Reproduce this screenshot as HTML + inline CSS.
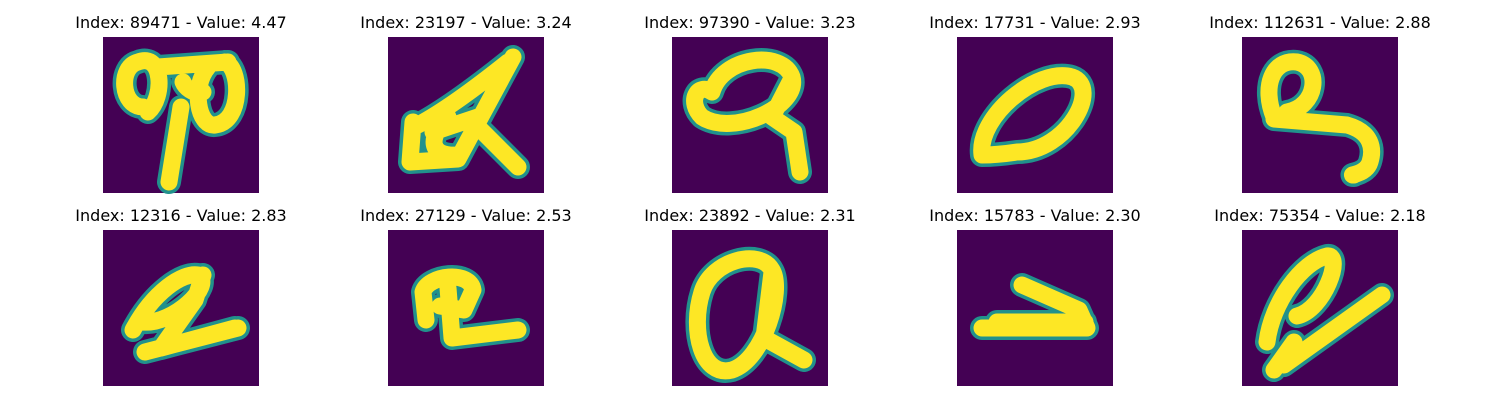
<!DOCTYPE html>
<html><head><meta charset="utf-8"><style>
body{margin:0;background:#fff;}
svg{display:block;font-family:"DejaVu Sans","Liberation Sans",sans-serif;}
.t{font-size:16px;fill:#000;text-anchor:middle;}
.e{fill:none;stroke:#21918c;stroke-linecap:round;stroke-linejoin:round;stroke-width:24;}
.y{fill:none;stroke:#fde725;stroke-linecap:round;stroke-linejoin:round;stroke-width:17;}
</style></head><body>
<svg id="fig" width="1500" height="400"></svg>
<script>
const indices=[89471,23197,97390,17731,112631,12316,27129,23892,15783,75354];
const values=[4.47,3.24,3.23,2.93,2.88,2.83,2.53,2.31,2.30,2.18];
const shapes=[
"M40,70 C18,70 15,30 35,25 C60,15 62,60 45,75 M55,30 L125,25 M105,30 C88,50 95,90 112,88 C140,85 138,30 122,25 M100,55 C90,58 82,50 80,45 M78,70 L66,145",
"M25,85 L22,125 L70,122 L125,20 M30,88 C60,72 95,45 120,25 M60,80 C40,100 40,120 70,118 M85,85 L130,130 M45,95 L90,80",
"M40,55 C50,20 110,12 120,40 C128,70 60,100 30,80 C15,65 25,45 40,55 M118,45 L100,80 L122,95 L128,135",
"M25,118 C20,80 80,30 115,40 C145,50 110,115 60,115 C40,118 30,118 25,118",
"M32,80 C20,50 30,22 55,25 C80,30 75,70 45,75 M32,82 L105,88 C130,95 132,112 128,125 C124,138 105,138 112,138",
"M30,100 C50,62 80,42 95,45 C112,55 70,95 40,92 M100,45 L92,70 L58,118 L132,98 M42,122 L135,98",
"M38,90 L35,62 C40,45 82,40 85,60 L76,80 L52,76 M60,58 L64,108 L130,100",
"M30,62 C18,100 30,148 60,140 C92,130 112,60 100,40 C88,18 40,30 30,62 M100,42 L92,108 L132,130",
"M25,98 L130,98 L122,80 L65,55 M40,92 L128,92",
"M25,112 C30,72 60,32 85,26 C102,24 82,80 55,86 M52,112 L32,140 M42,135 L140,65"];
const svg=document.getElementById('fig');
const NS='http://www.w3.org/2000/svg';
const cols=[103,388,672,957,1242], rows=[37,230], S=156;
for(let i=0;i<10;i++){
  const x=cols[i%5], y=rows[Math.floor(i/5)];
  const g=document.createElementNS(NS,'g');
  
  
  const t=document.createElementNS(NS,'text');
  t.setAttribute('class','t');t.setAttribute('x',x+S/2);t.setAttribute('y',y-9);
  
  
  t.textContent='Index: '+indices[i]+' - Value: '+values[i].toFixed(2);
  g.appendChild(t);
  const r=document.createElementNS(NS,'rect');
  r.setAttribute('x',x);r.setAttribute('y',y);r.setAttribute('width',S);r.setAttribute('height',S);r.setAttribute('fill','#440154');
  
  
  g.appendChild(r);
  const cg=document.createElementNS(NS,'g');
  cg.setAttribute('transform','translate('+x+','+y+')');
  ['e','y'].forEach(c=>{
    const p=document.createElementNS(NS,'path');
    p.setAttribute('d',shapes[i]);p.setAttribute('class',c);
    
    
    cg.appendChild(p);
  });
  g.appendChild(cg);
  svg.appendChild(g);
}
</script>
</body></html>
